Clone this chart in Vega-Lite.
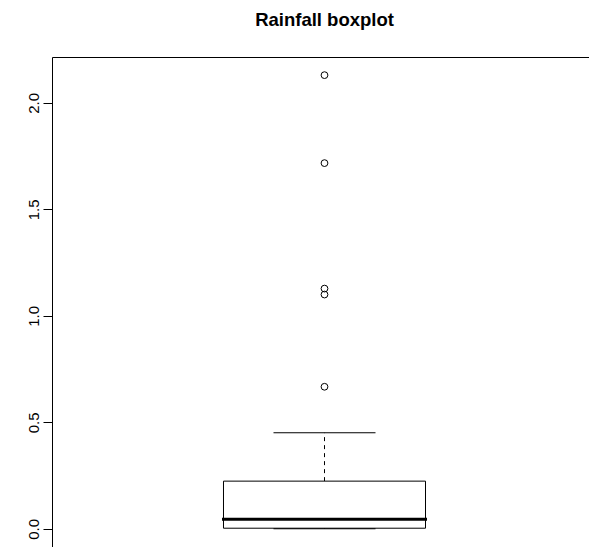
{
  "$schema": "https://vega.github.io/schema/vega-lite/v6.json",
  "autosize": {"type": "none"},
  "padding": {"left": 52, "top": 57, "right": 0, "bottom": 0},
  "width": 545,
  "height": 490,
  "background": "white",
  "title": {
    "text": "Rainfall boxplot",
    "font": "Liberation Sans",
    "fontSize": 18.5,
    "fontWeight": "bold",
    "color": "black",
    "anchor": "middle",
    "baseline": "alphabetic",
    "offset": 13
  },
  "config": {
    "view": {"stroke": "black", "strokeWidth": 1}
  },
  "datasets": {
    "stats": [{"g": "Rainfall", "lower": 0, "q1": 0.003, "median": 0.045, "q3": 0.224, "upper": 0.451}],
    "outliers": [
      {"g": "Rainfall", "value": 0.667},
      {"g": "Rainfall", "value": 1.100},
      {"g": "Rainfall", "value": 1.128},
      {"g": "Rainfall", "value": 1.717},
      {"g": "Rainfall", "value": 2.13}
    ]
  },
  "encoding": {
    "x": {
      "field": "g",
      "type": "nominal",
      "axis": null,
      "scale": {"paddingInner": 0, "paddingOuter": 0.849}
    }
  },
  "layer": [
    {
      "data": {"name": "stats"},
      "mark": {"type": "rule", "color": "black", "strokeWidth": 1, "strokeDash": [4, 4]},
      "encoding": {
        "y": {
          "field": "q3",
          "type": "quantitative",
          "scale": {"domain": [-0.0852, 2.2152], "nice": false, "zero": false},
          "axis": {
            "title": null,
            "values": [0, 0.5, 1, 1.5, 2],
            "format": ".1f",
            "grid": false,
            "domain": false,
            "ticks": true,
            "tickColor": "black",
            "tickSize": 9,
            "tickWidth": 1,
            "labelAngle": -90,
            "labelAlign": "center",
            "labelBaseline": "bottom",
            "labelPadding": 2,
            "labelFont": "Liberation Sans",
            "labelFontSize": 15,
            "labelColor": "black"
          }
        },
        "y2": {"field": "upper"}
      }
    },
    {
      "data": {"name": "stats"},
      "mark": {"type": "rule", "color": "black", "strokeWidth": 1, "strokeDash": [4, 4]},
      "encoding": {
        "y": {"field": "lower", "type": "quantitative"},
        "y2": {"field": "q1"}
      }
    },
    {
      "data": {"name": "stats"},
      "mark": {"type": "rect", "fill": "white", "stroke": "black", "strokeWidth": 1},
      "encoding": {
        "y": {"field": "q1", "type": "quantitative"},
        "y2": {"field": "q3"}
      }
    },
    {
      "data": {"name": "stats"},
      "mark": {"type": "tick", "color": "black", "size": 102, "thickness": 1, "opacity": 1},
      "encoding": {
        "y": {"field": "upper", "type": "quantitative"}
      }
    },
    {
      "data": {"name": "stats"},
      "mark": {"type": "tick", "color": "black", "size": 102, "thickness": 1, "opacity": 1},
      "encoding": {
        "y": {"field": "lower", "type": "quantitative"}
      }
    },
    {
      "data": {"name": "stats"},
      "mark": {"type": "tick", "color": "black", "size": 205, "thickness": 3, "opacity": 1},
      "encoding": {
        "y": {"field": "median", "type": "quantitative"}
      }
    },
    {
      "data": {"name": "outliers"},
      "mark": {"type": "point", "shape": "circle", "filled": false, "stroke": "black", "strokeWidth": 1, "size": 46, "opacity": 1},
      "encoding": {
        "y": {"field": "value", "type": "quantitative"}
      }
    }
  ]
}
